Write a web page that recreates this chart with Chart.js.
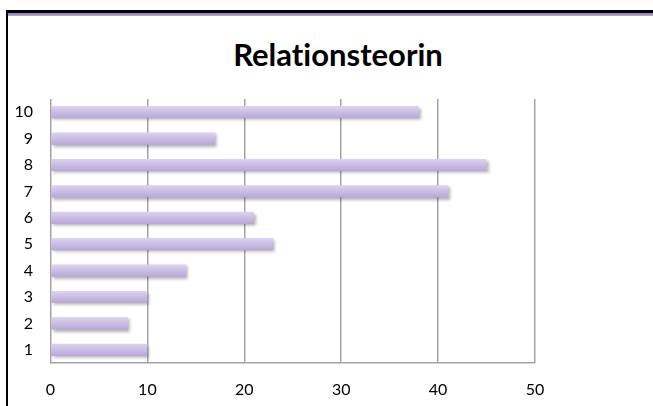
<!DOCTYPE html>
<html>
<head>
<meta charset="utf-8">
<title>Relationsteorin</title>
<script src="https://cdn.jsdelivr.net/npm/chart.js@4/dist/chart.umd.min.js"></script>
<style>
  body { margin: 0; width: 653px; height: 406px; overflow: hidden; background: #fff; position: relative; }
  #frame {
    position: absolute; left: 6px; top: 10px; right: -20px; bottom: -20px;
    border-left: 2px solid #000; border-top: 3px solid #000;
  }
  #frame::before {
    content: ''; display: block; height: 3px;
    background: linear-gradient(#8e76b6, #b9a9d8);
  }
  #title {
    position: absolute; left: 0; top: 39px; width: 676px;
    text-align: center; font: 700 31px/31px Lato, sans-serif; color: #000;
    font-variant-ligatures: none;
  }
  #chart { position: absolute; left: 0; top: 0; }
</style>
</head>
<body>
<div id="frame"></div>
<div id="title">Relationsteorin</div>
<canvas id="chart" width="653" height="406"></canvas>

<script>
'use strict';

const categories = ['1', '2', '3', '4', '5', '6', '7', '8', '9', '10'];
const values = [10, 8, 10, 14, 23, 21, 41, 45, 17, 38];
const xTicks = [0, 10, 20, 30, 40, 50];

const gridGray = '#a3a3a3';

// gradient per bar + soft drop shadow, like the spreadsheet style
const barLook = {
  id: 'barLook',
  beforeDatasetDraw(chart) {
    let c = chart.ctx;
    chart.getDatasetMeta(0).data.forEach(function (bar) {
      let g = c.createLinearGradient(0, bar.y - bar.height / 2, 0, bar.y + bar.height / 2);
      g.addColorStop(0, '#ddd3f0');
      g.addColorStop(1, '#b8a7d7');
      bar.options.backgroundColor = g;
    });
    c.save();
    c.shadowColor = 'rgba(0, 0, 0, 0.3)';
    c.shadowBlur = 3;
    c.shadowOffsetX = 2;
    c.shadowOffsetY = 2;
  },
  afterDatasetDraw(chart) {
    chart.ctx.restore();
  }
};

let ctx = document.getElementById('chart').getContext('2d');

let myChart = new Chart(ctx, {
  type: 'bar',
  data: {
    labels: categories,
    datasets: [{
      data: values,
      backgroundColor: function () { return '#cbbde5'; },
      borderWidth: 0,
      categoryPercentage: 0.8,
      barPercentage: 0.58
    }]
  },
  options: {
    indexAxis: 'y',
    responsive: false,
    animation: false,
    layout: {
      padding: { top: 99, right: 118, bottom: 0, left: 0 }
    },
    plugins: {
      legend: { display: false },
      title: { display: false },
      tooltip: { enabled: false }
    },
    scales: {
      x: {
        min: xTicks[0],
        max: xTicks[xTicks.length - 1],
        afterBuildTicks: function (scale) {
          scale.ticks = xTicks.map(function (v) { return { value: v }; });
        },
        afterFit: function (scale) { scale.height = 43; },
        grid: { color: gridGray, lineWidth: 1.5, drawTicks: false },
        border: { color: gridGray, width: 1.5 },
        ticks: {
          padding: 17,
          color: '#000',
          font: { family: 'Lato', size: 16 }
        }
      },
      y: {
        reverse: true,
        afterFit: function (scale) { scale.width = 50.5; },
        grid: { display: false, drawTicks: false },
        border: { display: false },
        ticks: {
          padding: 17.5,
          color: '#000',
          font: { family: 'Lato', size: 16 }
        }
      }
    }
  },
  plugins: [barLook]
});
</script>
</body>
</html>
